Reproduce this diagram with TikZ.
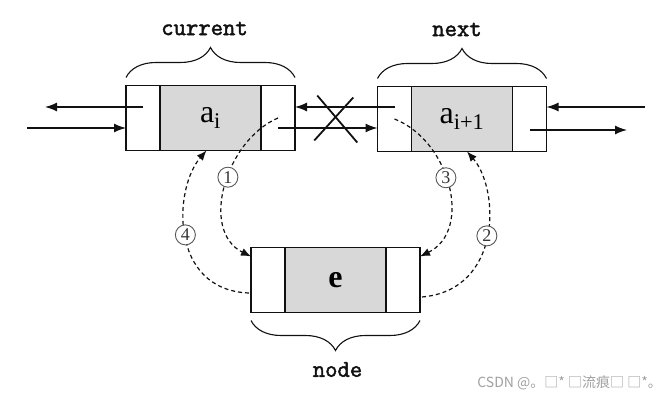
\documentclass[tikz,border=0pt]{standalone}
\usepackage{fontspec}
\setmainfont{Liberation Serif}
\newfontfamily\tagfam[FakeBold=2]{Latin Modern Mono}
\newfontfamily\cjkfont{Noto Sans CJK SC}
\usetikzlibrary{positioning,arrows.meta,calc,decorations.pathreplacing}
\definecolor{cellgray}{HTML}{D8D8D8}
\definecolor{ink}{HTML}{111111}
\definecolor{markgray}{HTML}{A0A0A0}
\newcommand{\tagfont}{\fontsize{24}{26}\selectfont\tagfam}
\newcommand{\valfont}{\fontsize{32}{34}\selectfont}
\begin{document}
\begin{tikzpicture}[x=1pt,y=1pt,
    side/.style={draw=ink,line width=1.3pt,fill=white,minimum width=34pt,minimum height=65pt,
                 inner sep=0pt,outer sep=0pt},
    datacell/.style={side,fill=cellgray,minimum width=101pt,font=\valfont},
    link/.style={-{Latex[length=12pt,width=9pt]},line width=1.3pt,draw=ink},
    relink/.style={-{Latex[length=10pt,width=8pt]},line width=1.2pt,draw=ink,dash pattern=on 4pt off 3pt},
    cross/.style={line width=1.8pt,draw=ink},
    num/.style={circle,solid,draw=ink!70,line width=0.9pt,fill=white,inner sep=0pt,minimum size=20pt,
                font=\fontsize{18}{18}\selectfont,text=ink!85},
    bracetop/.style={decorate,decoration={brace,amplitude=30pt,raise=8pt},line width=1.1pt,draw=ink},
    tag/.style={text=ink,font=\tagfont,inner sep=0pt}]

\useasboundingbox (0,0) rectangle (670,-401);

% ======================= the three list nodes =========================================
\node[datacell] (cd) at (210.5,-118) {a\textsubscript{i}};
\node[side,left=0pt of cd]  (cl) {};
\node[side,right=0pt of cd] (cr) {};

\node[datacell] (nd) at (462,-119) {a\textsubscript{i+1}};
\node[side,left=0pt of nd]  (nl) {};
\node[side,right=0pt of nd] (nr) {};

\node[datacell] (ed) at (335.5,-280) {\bfseries e};
\node[side,left=0pt of ed]  (el) {};
\node[side,right=0pt of ed] (er) {};

% ======================= braces and names =============================================
\draw[bracetop] (cl.north west) -- (cr.north east);
\draw[bracetop] (nl.north west) -- (nr.north east);
\draw[bracetop] (er.south east) -- (el.south west);
\node[tag] (curtag)  at ($(cd.north)+(-6,57)$) {current};
\node[tag] (nexttag) at ($(nd.north)+(-5,57)$) {next};
\node[tag] (nodetag) at ($(ed.south)+(2,-57)$) {node};

% ======================= old links ====================================================
\coordinate (curout) at (45,-107);
\coordinate (curin)  at (27,-128);
\coordinate (nxtin)  at (645,-107);
\coordinate (nxtout) at (627,-130);
\draw[link] ($(cl.center)+(0,11)$) -- (curout);
\draw[link] (curin) -- (curin -| cl.west);
\draw[link] ($(cr.center)+(0,-10)$) coordinate (fwd) -- (fwd -| nl.west);
\draw[link] ($(nl.center)+(0,12)$) coordinate (bwd) -- (bwd -| cr.east);
\draw[link] (nxtin) -- (nxtin -| nr.east);
\draw[link] ($(nr.center)+(0,-11)$) -- (nxtout);

% cut link
\coordinate (cut) at ($(cr.east)!0.5!(nl.west)$);
\draw[cross] ($(cut)+(-19,23)$) -- ($(cut)+(21,-24)$);
\draw[cross] ($(cut)+(17,21)$)  -- ($(cut)+(-22,-22)$);

% ======================= insertion steps ==============================================
\draw[relink] (cr.center) .. controls +(-52,-22) and +(-52,26) .. ($(el.north west)+(0,-9)$)
    node[num,pos=.45] (s1) {1};
\draw[relink] ($(er.east)+(2,-17)$) .. controls +(80,7) and +(33,-38) .. ($(nd.south)+(5,0)$)
    node[num,pos=.5] (s2) {2};
\draw[relink] (nl.center) .. controls +(56,-22) and +(53,26) .. ($(er.north east)+(0,-9)$)
    node[num,pos=.45] (s3) {3};
\draw[relink] ($(el.west)+(-2,-13)$) .. controls +(-80,3) and +(-33,-38) .. ($(cd.south)+(-4,0)$)
    node[num,pos=.5] (s4) {4};

% ======================= watermark ====================================================
\node[anchor=east,text=markgray,font=\cjkfont\fontsize{14}{16}\selectfont,inner sep=0pt] (mark)
    at (662,-383) {CSDN @。□* □流痕□ □*。};

\end{tikzpicture}
\end{document}
